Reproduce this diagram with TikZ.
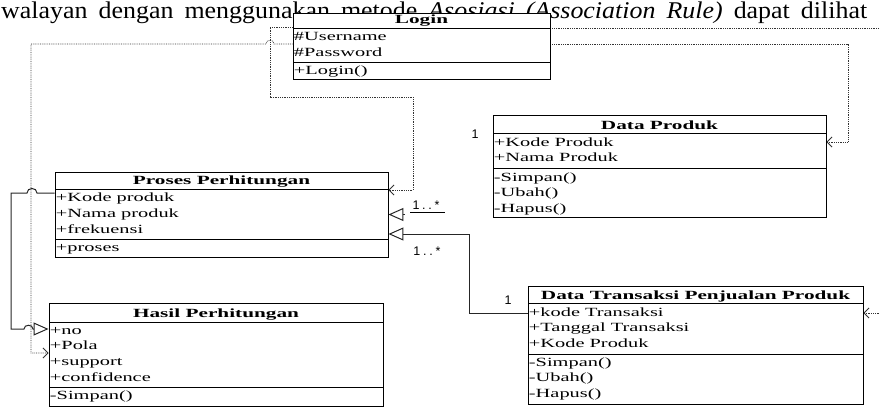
\documentclass[tikz,border=0pt]{standalone}
\usepackage{fontspec}
\setmainfont{Liberation Serif}
\newfontfamily\paraserif[FakeStretch=1.08]{Liberation Serif}
\newfontfamily\boxfont[FakeStretch=1.63, BoldFeatures={FakeStretch=1.7}]{Liberation Serif}
\newfontfamily\labelfont[LetterSpace=22]{Liberation Sans}
\usetikzlibrary{arrows.meta,fit,backgrounds}

% class rectangle with header and separator lines
\newcommand\classbox[7]{% name, x1, y1, x2, y2, header line, separator line
  \node[umlbox, fit={(#2,#3) (#4,#5)}] (#1) {};
  \draw[boxline] (#2,#6) -- (#4,#6) (#2,#7) -- (#4,#7);
}
% one text row per entry, pitch 15.8
\newcommand\classrows[4]{% box name, tag, first baseline, entries
  \foreach \entry [count=\k from 0] in {#4}
    \node[row] (#1-#2\k) at (#1.west |- 0,{#3+15.8*\k}) {\entry};
}

\begin{document}
\begin{tikzpicture}[x=1pt,y=-1pt,
  umlbox/.style={draw=black, line width=0.9pt, fill=white, inner sep=0pt},
  boxline/.style={draw=black, line width=0.9pt},
  title/.style={font=\boxfont\fontsize{12.5}{14}\selectfont\bfseries, anchor=base, inner sep=0pt},
  row/.style={font=\boxfont\fontsize{12.5}{14}\selectfont, anchor=base west, inner sep=0pt, xshift=1.2pt},
  mult/.style={font=\labelfont\fontsize{12.5}{13}\selectfont, inner sep=0pt},
  dep/.style={draw=black!80, densely dotted, line width=0.8pt, -{Straight Barb[length=5pt,width=10pt]}},
  gen/.style={draw=black!85, line width=1pt, -{Triangle[open,length=15pt,width=13pt]}},
]
\clip (0,0) rectangle (880,408);

% classes
\classbox{lg}{293}{13}{550}{79}{28}{62}
\node[title] (lg-t) at (lg.north |- 0,23) {Login};
\classrows{lg}{a}{40.5}{\#Username,\#Password}
\classrows{lg}{m}{74.5}{+Login()}

\classbox{pp}{55}{172}{388}{257}{189}{239}
\node[title] (pp-t) at (pp.north |- 0,184.5) {Proses Perhitungan};
\classrows{pp}{a}{201.5}{+Kode produk,+Nama produk,+frekuensi}
\classrows{pp}{m}{251.5}{+proses}

\classbox{hs}{49}{303}{383}{406}{322}{387}
\node[title] (hs-t) at (hs.north |- 0,317.5) {Hasil Perhitungan};
\classrows{hs}{a}{334}{+no,+Pola,+support,+confidence}
\classrows{hs}{m}{399.5}{-Simpan()}

\classbox{dp}{493}{115}{826}{217}{133}{168}
\node[title] (dp-t) at (dp.north |- 0,129.5) {Data Produk};
\classrows{dp}{a}{146}{+Kode Produk,+Nama Produk}
\classrows{dp}{m}{181}{-Simpan(),-Ubah(),-Hapus()}

\classbox{dt}{528}{286}{863}{404}{303}{354}
\node[title] (dt-t) at (dt.north |- 0,299.5) {Data Transaksi Penjualan Produk};
\classrows{dt}{a}{316}{+kode Transaksi,+Tanggal Transaksi,+Kode Produk}
\classrows{dt}{m}{366}{-Simpan(),-Ubah(),-Hapus()}

% multiplicities
\node[mult] (m1) at (426,205) {1..*};
\node[mult] (m2) at (427,251) {1..*};
\node[mult] (m3) at (475,134) {1};
\node[mult] (m4) at (508,300) {1};
\coordinate (m1a) at (410,212.5);
\coordinate (m1b) at (445,212.5);
\coordinate (dpend) at (405,214.5);

\begin{pgfonlayer}{background}
  % running text line behind the Login class
  \node[anchor=base west, inner sep=0pt, font=\paraserif\fontsize{24}{27}\selectfont] (txt) at (1,18.5)
    {\makebox[866pt][s]{walayan dengan menggunakan metode \textit{Asosiasi (Association Rule)} dapat dilihat}};

  % dependencies
  \draw[dep] (lg.west |- 0,44) -- (274,44) .. controls (274,39) and (266,39) .. (266,44)
     -- (31,44) -- (31,353) -- (hs.west |- 0,353);
  \draw[dep] (lg.east |- 0,44) -- (848,44) -- (848,142) -- (dp.east |- 0,142);
  \draw[dep] (lg.west |- 0,27) -- (270,27) -- (270,97) -- (413,97) -- (413,190) -- (pp.east |- 0,190);
  \draw[dep] (lg.east |- 0,28) -- (890,28) -- (890,313) -- (dt.east |- 0,313);

  % generalisations
  \draw[gen] (pp.west |- 0,193) -- (37,193) .. controls (37,187) and (27,187) .. (27,193)
     -- (11,193) -- (11,329) -- (24,329) .. controls (24,324) and (33,324) .. (33,329)
     -- (hs.west |- 0,329);
  \draw[gen] (dpend) -- (pp.east);
  \draw[gen] (dt.west |- 0,313) -- (469,313) -- (469,234) -- (pp.east |- 0,234);
  \draw[boxline] (m1a) -- (m1b);
\end{pgfonlayer}
\end{tikzpicture}
\end{document}
